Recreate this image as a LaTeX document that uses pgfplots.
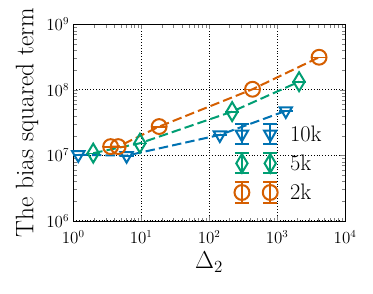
\documentclass[border=0pt]{standalone}
\usepackage{pgfplots}
\pgfplotsset{compat=1.18}
\definecolor{cbblue}{RGB}{0,114,178}
\definecolor{cbgreen}{RGB}{0,158,115}
\definecolor{cborange}{RGB}{213,94,0}
\begin{document}
\begin{tikzpicture}
\begin{axis}[
  scale only axis, width=230.5pt, height=166.7pt,
  xmode=log, ymode=log,
  xmin=1, xmax=1e4, ymin=1e6, ymax=1e9,
  grid=major, grid style={dotted, black, line width=0.8pt},
  xlabel={$\Delta_2$}, ylabel={The bias squared term},
  label style={font=\fontsize{21.5}{25}\selectfont},
  tick label style={font=\fontsize{13.5}{16}\selectfont},
  xticklabel style={yshift=-5pt},
  legend style={draw=none, fill=none, font=\fontsize{19}{23}\selectfont,
    at={(rel axis cs:0.577,0.51)}, anchor=north west, row sep=6pt},
  legend cell align=left,
  legend image code/.code={%
    \draw[solid,#1,mark=none] (0pt,-8.5pt)--(0pt,8.5pt) (-6pt,-8.5pt)--(6pt,-8.5pt) (-6pt,8.5pt)--(6pt,8.5pt)
      (24pt,-8.5pt)--(24pt,8.5pt) (18pt,-8.5pt)--(30pt,-8.5pt) (18pt,8.5pt)--(30pt,8.5pt);
    \draw[#1,solid] plot[only marks] coordinates {(0pt,0pt) (24pt,0pt)};
    \path (38pt,0pt);
  },
  every axis plot/.append style={line width=1.7pt},
]
\coordinate (sw) at (rel axis cs:0,0);
\coordinate (ne) at (rel axis cs:1,1);
\addplot[cbblue, dash pattern=on 8pt off 3.5pt, mark=triangle, mark size=6pt, mark options={solid, rotate=180},
  error bars/.cd, y dir=both, y explicit, error mark options={solid, cbblue, mark size=6pt, rotate=90}]
  coordinates {(1.186,1.02e7) +- (0,1.0e5) (6.1,9.9e6) +- (0,1.0e5) (143.6,2.05e7) +- (0,2.0e5) (1343,4.77e7) +- (0,4.8e5)};
\addlegendentry{10k}
\addplot[cbgreen, dash pattern=on 8pt off 3.5pt, mark=diamond, mark size=8pt, mark options={solid, xscale=0.8},
  error bars/.cd, y dir=both, y explicit, error mark options={solid, cbgreen, mark size=6pt, rotate=90}]
  coordinates {(1.97,1.08e7) +- (0,1.1e5) (9.57,1.53e7) +- (0,1.5e5) (218,4.65e7) +- (0,4.7e5) (2107,1.33e8) +- (0,1.3e6)};
\addlegendentry{5k}
\addplot[cborange, dash pattern=on 8pt off 3.5pt, mark=o, mark size=6.3pt, mark options={solid},
  error bars/.cd, y dir=both, y explicit, error mark options={solid, cborange, mark size=6pt, rotate=90}]
  coordinates {(3.55,1.36e7) +- (0,1.4e5) (4.59,1.36e7) +- (0,1.4e5) (18.4,2.75e7) +- (0,2.7e5) (435,1.02e8) +- (0,1.0e6) (4150,3.14e8) +- (0,3.1e6)};
\addlegendentry{2k}
\end{axis}
\path ([shift={(-62.1pt,-61.9pt)}]sw) rectangle ([shift={(23.7pt,20.6pt)}]ne);
\end{tikzpicture}
\end{document}
